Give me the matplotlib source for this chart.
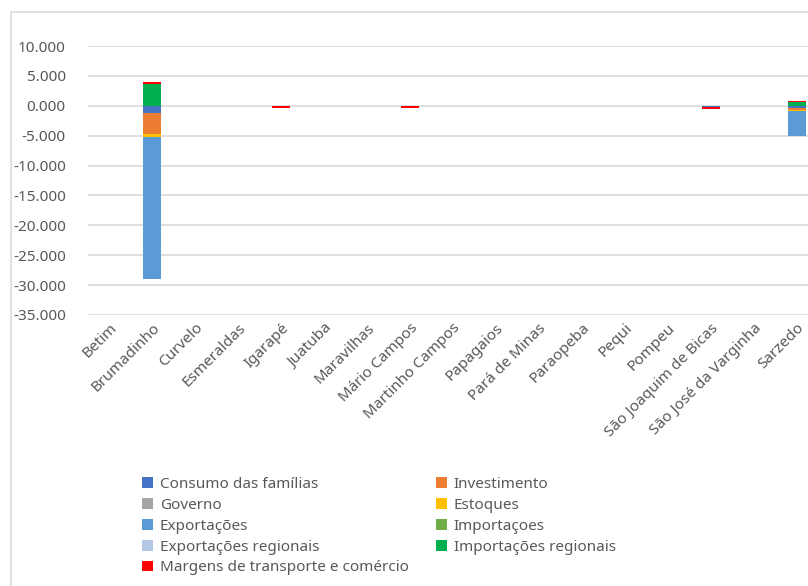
import numpy as np
import matplotlib
matplotlib.use('Agg')
import matplotlib.pyplot as plt
from matplotlib.patches import Rectangle
from matplotlib.ticker import FuncFormatter, MultipleLocator

municipios = ['Betim', 'Brumadinho', 'Curvelo', 'Esmeraldas', 'Igarapé', 'Juatuba',
              'Maravilhas', 'Mário Campos', 'Martinho Campos', 'Papagaios',
              'Pará de Minas', 'Paraopeba', 'Pequi', 'Pompeu',
              'São Joaquim de Bicas', 'São José da Varginha', 'Sarzedo']

# valores (mesma unidade do eixo)
consumo = [0, -1.2, 0, 0, 0, 0, 0, 0, 0, 0, 0, 0, 0, 0, -0.25, 0, -0.35]
investimento = [0, -3.45, 0, 0, 0, 0, 0, 0, 0, 0, 0, 0, 0, 0, 0, 0, -0.4]
governo = [0, 0, 0, 0, 0, 0, 0, 0, 0, 0, 0, 0, 0, 0, 0, 0, 0]
estoques = [0, -0.6, 0, 0, 0, 0, 0, 0, 0, 0, 0, 0, 0, 0, 0, 0, -0.2]
exportacoes = [0, -23.75, 0, 0, 0, 0, 0, 0, 0, 0, 0, 0, 0, 0, 0, 0, -4.05]
importacoes = [0, 0, 0, 0, 0, 0, 0, 0, 0, 0, 0, 0, 0, 0, 0, 0, 0]
exportacoes_reg = [0, 0, 0, 0, 0, 0, 0, 0, 0, 0, 0, 0, 0, 0, 0, 0, 0]
importacoes_reg = [0, 3.65, 0, 0, 0, 0, 0, 0, 0, 0, 0, 0, 0, 0, 0, 0, 0.7]
margens = [0, 0.25, 0, 0, -0.3, 0, 0, -0.3, 0, 0, 0, 0, 0, 0, -0.25, 0, 0.17]

series = [
    ('Consumo das famílias', consumo, '#4472C4'),
    ('Investimento', investimento, '#ED7D31'),
    ('Governo', governo, '#A5A5A5'),
    ('Estoques', estoques, '#FFC000'),
    ('Exportações', exportacoes, '#5B9BD5'),
    ('Importaçoes', importacoes, '#70AD47'),
    ('Exportações regionais', exportacoes_reg, '#B4C7E7'),
    ('Importações regionais', importacoes_reg, '#00B050'),
    ('Margens de transporte e comércio', margens, '#FF0000'),
]


def chart():
    plt.rcParams['font.family'] = ['Noto Sans', 'DejaVu Sans']
    grey = '#595959'

    fig = plt.figure(figsize=(8.08, 5.86), dpi=100)
    ax = fig.add_axes([88 / 808, 1 - 315 / 586, 730 / 808, 269 / 586])

    x = np.arange(len(municipios))
    pos_base = np.zeros(len(municipios))
    neg_base = np.zeros(len(municipios))
    handles = []
    for name, vals, color in series:
        vals = np.array(vals, dtype=float)
        bottom = np.where(vals >= 0, pos_base, neg_base)
        h = ax.bar(x, vals, 0.42, bottom=bottom, color=color, label=name, zorder=3)
        handles.append(h)
        pos_base += np.where(vals > 0, vals, 0)
        neg_base += np.where(vals < 0, vals, 0)

    ax.set_xlim(-0.5, len(municipios) - 0.5)
    ax.set_ylim(-35, 10)
    ax.yaxis.set_major_locator(MultipleLocator(5))
    ax.yaxis.set_major_formatter(FuncFormatter(lambda v, p: '{:.3f}'.format(v)))
    ax.grid(axis='y', color='#D9D9D9', linewidth=1.2, zorder=0)
    for s in ax.spines.values():
        s.set_visible(False)
    ax.tick_params(length=0, colors=grey, labelsize=11)
    ax.tick_params(axis='y', pad=16)
    ax.set_xticks(x)
    ax.set_xticklabels(municipios, rotation=45, ha='right', va='top',
                       rotation_mode='anchor')
    ax.tick_params(axis='x', pad=4)

    # ordem da legenda por linhas, como no original
    order = [0, 2, 4, 6, 8, 1, 3, 5, 7]
    leg = fig.legend([handles[i] for i in order], [series[i][0] for i in order],
                     loc='upper left', bbox_to_anchor=(136 / 808, 1 - 471 / 586),
                     ncol=2, frameon=False, fontsize=11, handlelength=0.7,
                     handleheight=0.7, handletextpad=0.45, labelspacing=0.38,
                     columnspacing=1.8, borderaxespad=0)
    for t in leg.get_texts():
        t.set_color(grey)

    fig.add_artist(Rectangle((10.5 / 808, -0.05), 1.2, 1.05 - 12 / 586,
                             transform=fig.transFigure, fill=False,
                             edgecolor='#D9D9D9', linewidth=1.2))
    fig.savefig('out.png', dpi=100)


if __name__ == '__main__':
    chart()
